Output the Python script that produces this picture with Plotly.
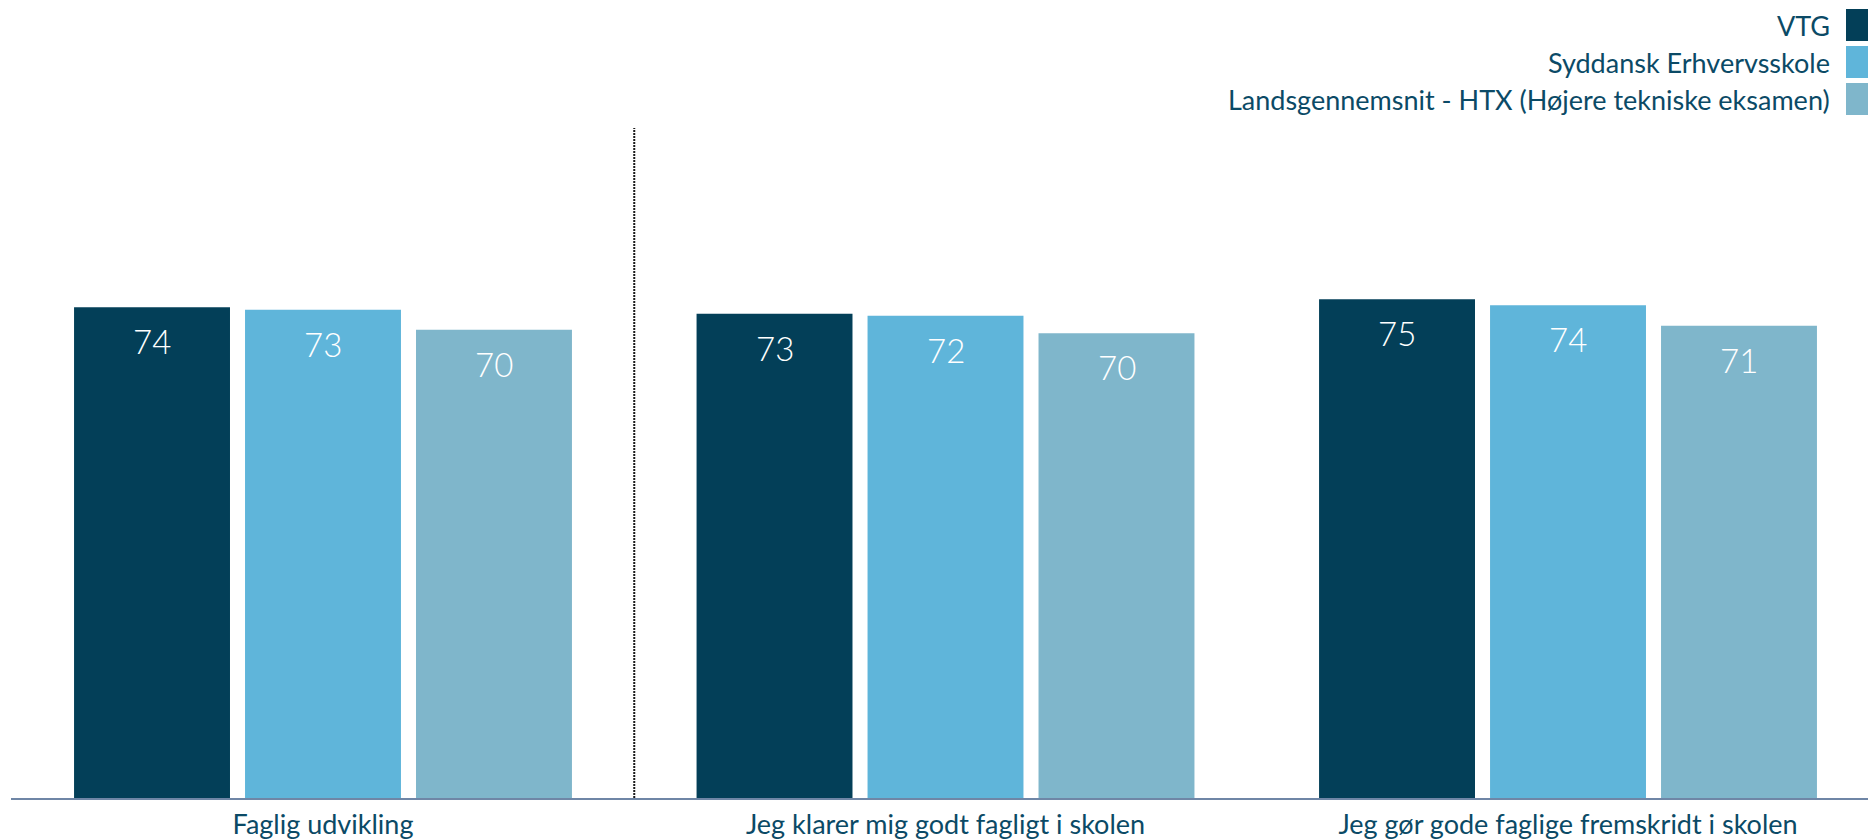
import plotly.graph_objects as go

categories = ["Faglig udvikling", "Jeg klarer mig godt fagligt i skolen", "Jeg gør gode faglige fremskridt i skolen"]
series_names = ["VTG", "Syddansk Erhvervsskole", "Landsgennemsnit - HTX (Højere tekniske eksamen)"]
vtg = [73.7, 72.7, 74.9]
syddansk = [73.3, 72.4, 74.0]
landsgns = [70.3, 69.8, 70.9]
colors = ["#033f58", "#5fb5da", "#7fb6cb"]

W, H = 1868, 840
L, R, T, B = 11, 0, 132, 42
plot_w = W - L - R
plot_h = H - T - B

TEXT = "#0b4a66"
FONT = "Lato, 'Open Sans', sans-serif"

def px_x(px):
    return (px - L) / plot_w

def px_y(py):
    return (H - B - py) / plot_h

fig = go.Figure()
all_series = [vtg, syddansk, landsgns]
for name, vals, col in zip(series_names, all_series, colors):
    fig.add_trace(go.Bar(
        name=name, x=categories, y=vals, marker=dict(color=col, line=dict(width=0)),
        showlegend=False, hoverinfo="skip",
    ))

slot = 0.2747
annotations = []
for k, vals in enumerate(all_series):
    for i, v in enumerate(vals):
        annotations.append(dict(
            x=i + (k - 1) * slot, y=v, xref="x", yref="y",
            text=f"{v:.0f}", showarrow=False, yanchor="top", yshift=-12,
            font=dict(family=FONT, size=33, color="white", weight=300),
        ))

# custom legend
leg_centers = [25, 62, 99]
for name, col, cy in zip(series_names, colors, leg_centers):
    annotations.append(dict(
        x=px_x(1832), y=px_y(cy), xref="paper", yref="paper",
        text=name, showarrow=False, xanchor="right", yanchor="middle",
        font=dict(family=FONT, size=27, color=TEXT),
    ))

shapes = []
for col, cy in zip(colors, leg_centers):
    shapes.append(dict(type="rect", xref="paper", yref="paper",
                       x0=px_x(1846), x1=px_x(1868), y0=px_y(cy + 16), y1=px_y(cy - 16),
                       fillcolor=col, line=dict(width=0)))

shapes.append(dict(type="line", xref="x", yref="paper", x0=0.5, x1=0.5, y0=0, y1=px_y(128),
                   line=dict(color="#1a1a1a", width=2, dash="2px,1px")))

fig.update_layout(
    width=W, height=H,
    margin=dict(l=L, r=R, t=T, b=B, pad=0),
    paper_bgcolor="white", plot_bgcolor="white",
    barmode="group", bargap=0.176, bargroupgap=0.088,
    annotations=annotations, shapes=shapes,
    font=dict(family=FONT, size=27, color=TEXT),
    xaxis=dict(range=[-0.5012, 2.4819], showline=True, linecolor="#6f86a6", linewidth=1.5,
               ticks="", showgrid=False, tickfont=dict(family=FONT, size=27, color=TEXT),
               ticklabelstandoff=2),
    yaxis=dict(range=[0, 100], visible=False, showgrid=False, zeroline=False),
)

fig.write_html("out.html", config={"displayModeBar": False},
               post_script="document.body.style.margin='0px';")
